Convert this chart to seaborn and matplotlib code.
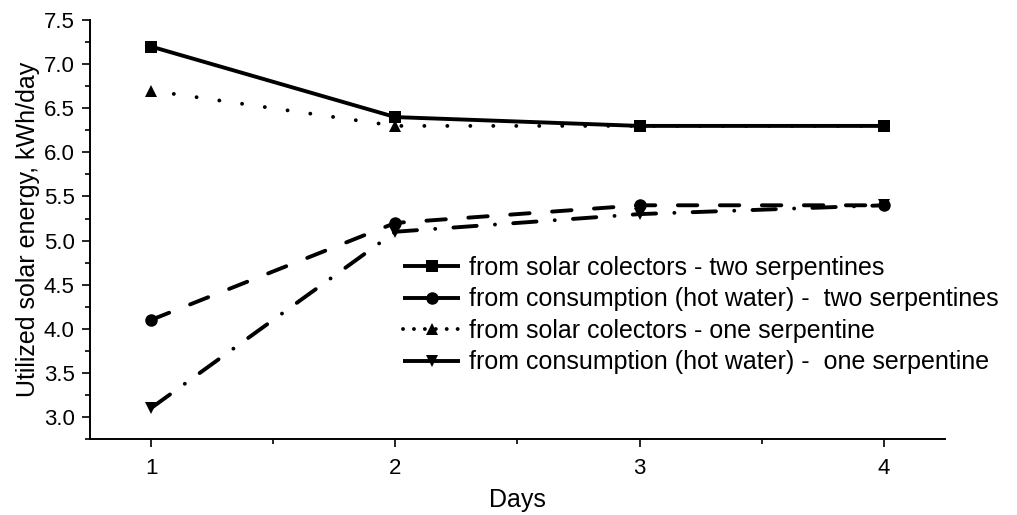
import numpy as np
import pandas as pd
import matplotlib
matplotlib.use("Agg")
import matplotlib.pyplot as plt
import seaborn as sns
from matplotlib.ticker import MultipleLocator, FormatStrFormatter

# ── Data ──────────────────────────────────────────────────────────────────────
days = [1, 2, 3, 4]
solar_two = [7.2, 6.4, 6.3, 6.3]
consumption_two = [4.1, 5.2, 5.4, 5.4]
solar_one = [6.7, 6.3, 6.3, 6.3]
consumption_one = [3.1, 5.1, 5.3, 5.4]

series_names = [
    "from solar colectors - two serpentines",
    "from consumption (hot water) -  two serpentines",
    "from solar colectors - one serpentine",
    "from consumption (hot water) -  one serpentine",
]

# ── Styling ───────────────────────────────────────────────────────────────────
sns.set_theme(style="ticks", rc={"text.color": "black", "axes.labelcolor": "black",
                                 "xtick.color": "black", "ytick.color": "black"})
plt.rcParams["font.family"] = ["Liberation Sans", "DejaVu Sans"]

LW = 2.8
styles = [
    dict(marker="s", dashes=None),
    dict(marker="o", dashes=(5, 5.8)),
    dict(marker="^", dashes=(0.01, 5.9)),
    dict(marker="v", dashes=(6, 4.7, 0.01, 4.7)),
]

fig = plt.figure(figsize=(10.17, 5.15), dpi=100)
ax = fig.add_axes([0.0885, 0.1476, 0.8405, 0.8134])

for name, vals, st in zip(series_names,
                          [solar_two, consumption_two, solar_one, consumption_one],
                          styles):
    df = pd.DataFrame({"day": days, "val": vals})
    sns.lineplot(data=df, x="day", y="val", ax=ax, color="black",
                 marker=st["marker"], markersize=9, markeredgewidth=0,
                 linewidth=LW, label=name)
    line = ax.get_lines()[-1]
    if st["dashes"] is not None:
        line.set_dashes(st["dashes"])
    line.set_dash_capstyle("round")
    line.set_solid_capstyle("butt")

ax.set_xlim(0.75, 4.25)
ax.set_ylim(2.75, 7.5)
ax.xaxis.set_major_locator(MultipleLocator(1))
ax.xaxis.set_minor_locator(MultipleLocator(0.5))
ax.yaxis.set_major_locator(MultipleLocator(0.5))
ax.yaxis.set_minor_locator(MultipleLocator(0.25))
ax.yaxis.set_major_formatter(FormatStrFormatter("%.1f"))
ax.tick_params(which="major", length=6, width=1.2, labelsize=16, color="black",
               labelcolor="black", pad=5)
ax.tick_params(axis="x", pad=8)
ax.tick_params(which="minor", length=3.5, width=1.2, color="black")
for s in ["left", "bottom"]:
    ax.spines[s].set_linewidth(1.4)
    ax.spines[s].set_color("black")
sns.despine(ax=ax)

ax.set_xlabel("Days", fontsize=18, labelpad=6, color="black")
ax.set_ylabel("Utilized solar energy, kWh/day", fontsize=18, labelpad=3, color="black")

leg = ax.legend(loc="upper left", bbox_to_anchor=(0.366, 0.437), frameon=False,
                fontsize=18, handlelength=2.3, handletextpad=0.35,
                labelspacing=0.3, borderaxespad=0, borderpad=0)
for t in leg.get_texts():
    t.set_color("black")
for h in leg.get_lines():
    h.set_linestyle("-")
    h.set_linewidth(LW)
# keep the dotted entry dotted, as in the reference
leg.get_lines()[2].set_dashes((0.01, 2.8))
leg.get_lines()[2].set_dash_capstyle("round")

plt.savefig("out.png", dpi=100)
